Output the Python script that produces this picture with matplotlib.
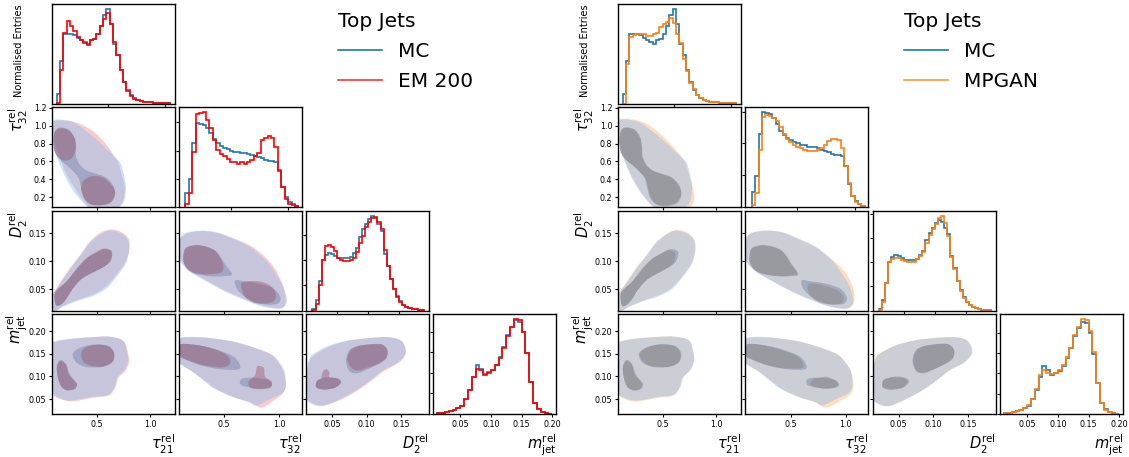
import numpy as np
import matplotlib
matplotlib.use("Agg")
import matplotlib.pyplot as plt
from matplotlib.path import Path
from matplotlib.patches import PathPatch
from matplotlib.lines import Line2D
from matplotlib.ticker import MultipleLocator, NullFormatter

# ---- variables along the corner grid ----
VARS = ["t21", "t32", "d2", "mjet"]
AXIS_LABELS = [r"$\tau_{21}^{\mathrm{rel}}$", r"$\tau_{32}^{\mathrm{rel}}$",
               r"$D_2^{\mathrm{rel}}$", r"$m_{\mathrm{jet}}^{\mathrm{rel}}$"]

# ---- 1D marginals (bin edges + normalised heights) ----
T21_EDGES = np.linspace(0.055, 0.055 + 34 * 0.029, 35)
T21_MC = [0.28, 1.27, 2.10, 2.10, 2.10, 2.06, 1.98, 1.90, 1.85, 1.80, 1.90, 1.95, 2.10, 2.32, 2.65, 2.85, 2.38,
          1.80, 1.45, 1.00, 0.65, 0.40, 0.25, 0.17, 0.12, 0.08, 0.06, 0.05, 0.04, 0.03, 0.025, 0.02, 0.015, 0.01]
T21_EM = [0.02, 1.02, 2.12, 2.47, 2.32, 2.18, 2.00, 1.92, 1.82, 1.75, 1.90, 1.95, 2.10, 2.32, 2.55, 2.72, 2.38,
          1.85, 1.45, 1.00, 0.65, 0.38, 0.23, 0.15, 0.11, 0.08, 0.06, 0.05, 0.04, 0.03, 0.025, 0.02, 0.015, 0.01]
T21_GAN = [0.0, 1.18, 2.00, 2.05, 2.08, 2.08, 2.08, 2.03, 2.03, 2.10, 2.13, 2.30, 2.40, 2.46, 2.58, 2.43, 2.08,
           1.83, 1.33, 0.98, 0.63, 0.43, 0.26, 0.17, 0.12, 0.08, 0.06, 0.05, 0.04, 0.03, 0.025, 0.02, 0.015, 0.01]

T32_EDGES = np.linspace(0.10, 1.09, 34)
T32_MC = [0.24, 0.49, 1.14, 1.49, 1.48, 1.46, 1.40, 1.31, 1.20, 1.13, 1.09, 1.05, 1.02, 1.00, 0.98, 0.97, 0.95,
          0.95, 0.94, 0.92, 0.90, 0.88, 0.86, 0.83, 0.82, 0.82, 0.80, 0.65, 0.36, 0.17, 0.09, 0.05, 0.01]
T32_EM = [0.06, 0.24, 0.98, 1.64, 1.67, 1.68, 1.54, 1.40, 1.19, 1.01, 0.94, 0.90, 0.85, 0.80, 0.79, 0.77, 0.79,
          0.77, 0.80, 0.83, 0.90, 0.96, 1.19, 1.22, 1.26, 1.22, 1.07, 0.63, 0.36, 0.15, 0.06, 0.03, 0.01]
T32_GAN = [0.03, 0.22, 0.90, 1.42, 1.44, 1.43, 1.40, 1.35, 1.25, 1.15, 1.07, 1.02, 0.98, 0.94, 0.92, 0.90, 0.88,
           0.88, 0.88, 0.90, 0.93, 0.98, 1.04, 1.07, 1.07, 1.05, 0.92, 0.65, 0.37, 0.17, 0.08, 0.04, 0.01]

D2_EDGES = np.linspace(0.01, 0.19, 37)
D2_MC = [0.39, 2.17, 5.79, 10.1, 11.05, 11.4, 11.2, 10.9, 10.5, 10.4, 10.4, 10.5, 10.7, 11.4, 12.4, 14.5, 16.1, 17.1,
         18.1, 18.8, 18.4, 17.1, 15.8, 11.3, 8.8, 6.2, 4.2, 2.8, 1.84, 1.18, 0.79, 0.53, 0.33, 0.2, 0.13, 0.07]
D2_EM = [0.13, 1.32, 5.13, 10.1, 12.7, 12.9, 12.5, 11.8, 10.5, 10.1, 9.9, 9.9, 10.1, 10.5, 11.7, 13.3, 14.7, 16.6,
         17.6, 18.4, 18.6, 17.6, 16.2, 12.0, 8.8, 6.2, 4.2, 2.6, 1.7, 1.18, 0.79, 0.53, 0.33, 0.2, 0.13, 0.07]
D2_GAN = [0.2, 1.8, 5.6, 10.0, 10.6, 10.9, 10.8, 10.5, 10.2, 10.0, 10.0, 10.1, 10.6, 11.2, 12.2, 14.0, 15.6, 16.8,
          17.9, 19.2, 19.6, 18.0, 15.4, 11.0, 8.6, 6.0, 4.0, 2.6, 1.7, 1.1, 0.75, 0.5, 0.3, 0.2, 0.12, 0.06]

M_EDGES = np.linspace(0.0125, 0.2, 31)
M_MC = [0.16, 0.32, 0.48, 0.73, 1.05, 1.45, 2.0, 3.6, 5.9, 9.1, 11.9, 10.9, 9.75, 10.1, 10.7, 11.9, 13.8, 16.2,
        19.2, 21.2, 22.8, 22.4, 20.0, 14.9, 7.7, 2.7, 1.2, 0.56, 0.24, 0.08]
M_EM = [0.16, 0.32, 0.48, 0.73, 1.05, 1.45, 2.0, 3.6, 5.9, 9.1, 10.9, 10.7, 9.5, 9.9, 10.6, 11.9, 13.5, 16.0,
        18.9, 21.2, 23.0, 22.8, 20.0, 14.9, 7.7, 2.7, 1.2, 0.56, 0.24, 0.08]
M_GAN = [0.14, 0.30, 0.45, 0.70, 1.0, 1.4, 2.1, 3.8, 6.2, 9.6, 10.8, 10.2, 9.8, 10.2, 10.9, 12.1, 14.0, 16.4,
         19.4, 21.6, 23.4, 23.2, 20.4, 15.2, 7.6, 2.6, 1.1, 0.5, 0.22, 0.08]

# ---- 2D density contours: outer (loose) level and inner (core) level outlines ----
# tau21 vs tau32
MC_21_32_OUT = [(0.07, 1.00), (0.08, 1.06), (0.15, 1.07), (0.25, 1.05), (0.34, 0.99), (0.47, 0.87), (0.57, 0.76),
                (0.66, 0.66), (0.72, 0.58), (0.75, 0.46), (0.77, 0.32), (0.76, 0.18), (0.72, 0.10), (0.62, 0.05),
                (0.50, 0.04), (0.42, 0.08), (0.35, 0.16), (0.26, 0.30), (0.18, 0.48), (0.12, 0.66), (0.08, 0.85)]
EM_21_32_OUT = [(0.08, 0.98), (0.09, 1.05), (0.16, 1.06), (0.26, 1.05), (0.36, 1.01), (0.48, 0.92), (0.58, 0.80),
                (0.65, 0.68), (0.70, 0.58), (0.73, 0.46), (0.76, 0.32), (0.75, 0.18), (0.71, 0.10), (0.62, 0.05),
                (0.50, 0.04), (0.43, 0.08), (0.37, 0.16), (0.29, 0.30), (0.21, 0.46), (0.15, 0.64), (0.10, 0.84)]
GAN_21_32_OUT = [(0.07, 1.00), (0.07, 1.07), (0.15, 1.08), (0.26, 1.06), (0.36, 1.01), (0.48, 0.90), (0.58, 0.78),
                 (0.66, 0.67), (0.71, 0.58), (0.74, 0.46), (0.78, 0.30), (0.79, 0.17), (0.74, 0.08), (0.62, 0.05),
                 (0.50, 0.04), (0.42, 0.08), (0.35, 0.16), (0.27, 0.30), (0.19, 0.47), (0.13, 0.65), (0.09, 0.84)]
MC_21_32_IN = [[(0.15, 0.98), (0.23, 0.96), (0.28, 0.88), (0.30, 0.77), (0.30, 0.66), (0.34, 0.56), (0.40, 0.50),
                (0.47, 0.47), (0.57, 0.43), (0.64, 0.35), (0.67, 0.25), (0.63, 0.15), (0.54, 0.11), (0.44, 0.12),
                (0.38, 0.19), (0.35, 0.30), (0.33, 0.40), (0.29, 0.47), (0.22, 0.55), (0.15, 0.62), (0.10, 0.71),
                (0.09, 0.85), (0.11, 0.95)]]
EM_21_32_IN = [[(0.15, 0.97), (0.23, 0.95), (0.29, 0.86), (0.30, 0.75), (0.27, 0.65), (0.21, 0.61), (0.15, 0.63),
                (0.10, 0.71), (0.09, 0.83), (0.10, 0.93)],
               [(0.40, 0.41), (0.48, 0.44), (0.57, 0.41), (0.64, 0.33), (0.67, 0.24), (0.63, 0.14), (0.54, 0.11),
                (0.44, 0.12), (0.38, 0.18), (0.35, 0.28), (0.36, 0.36)]]
GAN_21_32_IN = [[(0.14, 0.98), (0.22, 0.96), (0.28, 0.87), (0.30, 0.76), (0.31, 0.65), (0.35, 0.55), (0.41, 0.49),
                 (0.48, 0.46), (0.57, 0.42), (0.64, 0.34), (0.67, 0.24), (0.64, 0.14), (0.55, 0.10), (0.45, 0.11),
                 (0.39, 0.18), (0.36, 0.29), (0.34, 0.39), (0.30, 0.46), (0.23, 0.54), (0.16, 0.61), (0.10, 0.70),
                 (0.09, 0.84), (0.10, 0.94)]]

# tau21 vs D2
MC_21_D2_OUT = [(0.08, 0.010), (0.07, 0.036), (0.14, 0.057), (0.21, 0.077), (0.28, 0.095), (0.35, 0.112),
                (0.43, 0.133), (0.53, 0.148), (0.62, 0.155), (0.72, 0.150), (0.79, 0.138), (0.80, 0.118),
                (0.77, 0.096), (0.69, 0.074), (0.59, 0.052), (0.47, 0.039), (0.31, 0.029), (0.18, 0.019)]
EM_21_D2_OUT = [(0.09, 0.011), (0.08, 0.038), (0.14, 0.059), (0.21, 0.079), (0.28, 0.097), (0.35, 0.114),
                (0.43, 0.135), (0.53, 0.151), (0.63, 0.157), (0.73, 0.152), (0.80, 0.139), (0.80, 0.118),
                (0.76, 0.097), (0.68, 0.076), (0.58, 0.055), (0.47, 0.042), (0.31, 0.031), (0.18, 0.021)]
GAN_21_D2_OUT = [(0.08, 0.010), (0.07, 0.038), (0.14, 0.059), (0.21, 0.079), (0.28, 0.097), (0.35, 0.113),
                 (0.43, 0.133), (0.53, 0.149), (0.62, 0.156), (0.72, 0.152), (0.79, 0.139), (0.80, 0.118),
                 (0.76, 0.096), (0.68, 0.074), (0.58, 0.053), (0.47, 0.041), (0.31, 0.030), (0.18, 0.020)]
MC_21_D2_IN = [[(0.11, 0.022), (0.10, 0.042), (0.13, 0.051), (0.21, 0.064), (0.31, 0.087), (0.40, 0.105),
                (0.50, 0.116), (0.57, 0.122), (0.64, 0.117), (0.62, 0.100), (0.55, 0.089), (0.41, 0.075),
                (0.34, 0.066), (0.26, 0.049), (0.20, 0.031), (0.15, 0.022)]]
EM_21_D2_IN = [[(0.11, 0.023), (0.10, 0.041), (0.14, 0.052), (0.22, 0.066), (0.31, 0.088), (0.40, 0.106),
                (0.49, 0.117), (0.56, 0.123), (0.63, 0.119), (0.63, 0.102), (0.56, 0.090), (0.42, 0.077),
                (0.34, 0.067), (0.27, 0.051), (0.21, 0.033), (0.16, 0.023)]]
GAN_21_D2_IN = [[(0.11, 0.022), (0.10, 0.042), (0.14, 0.052), (0.21, 0.065), (0.30, 0.087), (0.39, 0.104),
                 (0.48, 0.114), (0.55, 0.120), (0.61, 0.115), (0.60, 0.099), (0.53, 0.088), (0.40, 0.074),
                 (0.33, 0.065), (0.26, 0.049), (0.20, 0.031), (0.15, 0.022)]]

# tau32 vs D2
MC_32_D2_OUT = [(0.085, 0.136), (0.14, 0.150), (0.28, 0.155), (0.43, 0.152), (0.58, 0.140), (0.73, 0.126),
                (0.88, 0.101), (0.97, 0.077), (1.04, 0.053), (1.07, 0.028), (1.02, 0.016), (0.94, 0.016),
                (0.82, 0.021), (0.70, 0.030), (0.52, 0.045), (0.34, 0.064), (0.19, 0.081), (0.10, 0.100),
                (0.08, 0.120)]
EM_32_D2_OUT = [(0.085, 0.134), (0.15, 0.149), (0.29, 0.154), (0.44, 0.151), (0.59, 0.141), (0.74, 0.128),
                (0.87, 0.108), (0.96, 0.087), (1.03, 0.059), (1.06, 0.031), (1.03, 0.018), (0.94, 0.018),
                (0.82, 0.023), (0.70, 0.032), (0.52, 0.047), (0.35, 0.065), (0.21, 0.081), (0.12, 0.098),
                (0.09, 0.118)]
GAN_32_D2_OUT = [(0.085, 0.135), (0.14, 0.150), (0.28, 0.155), (0.43, 0.151), (0.58, 0.139), (0.73, 0.125),
                 (0.88, 0.103), (0.99, 0.082), (1.06, 0.056), (1.08, 0.030), (1.03, 0.017), (0.94, 0.017),
                 (0.82, 0.022), (0.70, 0.031), (0.52, 0.046), (0.34, 0.065), (0.19, 0.082), (0.10, 0.100),
                 (0.08, 0.120)]
MC_32_D2_IN = [[(0.13, 0.112), (0.15, 0.123), (0.22, 0.128), (0.28, 0.128), (0.35, 0.125), (0.41, 0.120),
                (0.46, 0.110), (0.50, 0.097), (0.57, 0.077), (0.50, 0.074), (0.43, 0.073), (0.35, 0.074),
                (0.28, 0.076), (0.21, 0.080), (0.16, 0.087), (0.13, 0.100)],
               [(0.60, 0.066), (0.70, 0.064), (0.78, 0.062), (0.88, 0.057), (0.96, 0.050), (1.01, 0.036),
                (0.99, 0.025), (0.90, 0.023), (0.80, 0.026), (0.70, 0.035), (0.62, 0.050)]]
EM_32_D2_IN = [[(0.13, 0.112), (0.15, 0.124), (0.22, 0.129), (0.28, 0.129), (0.35, 0.126), (0.42, 0.119),
                (0.46, 0.108), (0.49, 0.094), (0.48, 0.082), (0.42, 0.078), (0.35, 0.077), (0.28, 0.078),
                (0.21, 0.081), (0.16, 0.088), (0.13, 0.100)],
               [(0.66, 0.062), (0.75, 0.065), (0.85, 0.063), (0.93, 0.055), (0.97, 0.040), (0.94, 0.028),
                (0.85, 0.025), (0.76, 0.027), (0.69, 0.037), (0.66, 0.051)]]
GAN_32_D2_IN = [[(0.13, 0.113), (0.15, 0.124), (0.22, 0.129), (0.28, 0.129), (0.35, 0.126), (0.41, 0.121),
                 (0.46, 0.111), (0.50, 0.098), (0.56, 0.079), (0.49, 0.075), (0.42, 0.074), (0.35, 0.075),
                 (0.28, 0.077), (0.21, 0.081), (0.16, 0.088), (0.13, 0.100)],
                [(0.66, 0.060), (0.74, 0.060), (0.84, 0.055), (0.93, 0.048), (0.98, 0.036), (0.96, 0.026),
                 (0.88, 0.023), (0.78, 0.026), (0.70, 0.035), (0.66, 0.048)]]

# tau21 vs mjet
MC_21_M_OUT = [(0.07, 0.170), (0.11, 0.178), (0.26, 0.184), (0.46, 0.187), (0.60, 0.188), (0.74, 0.180),
               (0.78, 0.155), (0.79, 0.136), (0.76, 0.116), (0.69, 0.098), (0.66, 0.076), (0.60, 0.059),
               (0.46, 0.055), (0.26, 0.047), (0.15, 0.051), (0.08, 0.063), (0.07, 0.100)]
EM_21_M_OUT = [(0.08, 0.168), (0.12, 0.177), (0.27, 0.183), (0.47, 0.187), (0.62, 0.188), (0.75, 0.178),
               (0.79, 0.152), (0.80, 0.132), (0.77, 0.114), (0.70, 0.097), (0.67, 0.075), (0.61, 0.058),
               (0.46, 0.053), (0.27, 0.045), (0.16, 0.050), (0.09, 0.062), (0.08, 0.100)]
GAN_21_M_OUT = [(0.07, 0.168), (0.11, 0.178), (0.26, 0.184), (0.46, 0.188), (0.60, 0.188), (0.74, 0.180),
                (0.78, 0.156), (0.79, 0.134), (0.75, 0.114), (0.68, 0.097), (0.65, 0.075), (0.59, 0.058),
                (0.46, 0.053), (0.26, 0.045), (0.15, 0.049), (0.08, 0.062), (0.07, 0.100)]
MC_21_M_IN = [[(0.27, 0.150), (0.32, 0.161), (0.40, 0.168), (0.50, 0.171), (0.61, 0.167), (0.66, 0.152),
               (0.65, 0.133), (0.57, 0.122), (0.47, 0.120), (0.38, 0.122), (0.30, 0.132)],
              [(0.17, 0.136), (0.21, 0.126), (0.24, 0.106), (0.28, 0.093), (0.31, 0.083), (0.29, 0.072),
               (0.22, 0.069), (0.16, 0.078), (0.13, 0.098), (0.12, 0.120), (0.14, 0.134)]]
EM_21_M_IN = [[(0.35, 0.150), (0.39, 0.164), (0.50, 0.170), (0.61, 0.166), (0.66, 0.150), (0.64, 0.132),
               (0.55, 0.122), (0.45, 0.123), (0.37, 0.133)],
              [(0.17, 0.134), (0.21, 0.124), (0.23, 0.105), (0.28, 0.092), (0.31, 0.082), (0.28, 0.072),
               (0.21, 0.070), (0.16, 0.079), (0.13, 0.099), (0.12, 0.120), (0.14, 0.132)]]
GAN_21_M_IN = [[(0.28, 0.150), (0.33, 0.162), (0.41, 0.169), (0.51, 0.171), (0.62, 0.166), (0.67, 0.150),
                (0.65, 0.132), (0.57, 0.122), (0.47, 0.121), (0.38, 0.124), (0.31, 0.134)],
               [(0.17, 0.133), (0.21, 0.123), (0.23, 0.104), (0.28, 0.091), (0.30, 0.081), (0.27, 0.071),
                (0.21, 0.070), (0.16, 0.078), (0.13, 0.097), (0.12, 0.118), (0.14, 0.131)]]

# tau32 vs mjet
MC_32_M_OUT = [(0.08, 0.182), (0.28, 0.187), (0.54, 0.179), (0.73, 0.167), (0.92, 0.149), (1.00, 0.129),
               (1.05, 0.110), (1.06, 0.081), (1.03, 0.064), (0.93, 0.052), (0.79, 0.036), (0.72, 0.044),
               (0.57, 0.055), (0.41, 0.073), (0.32, 0.089), (0.21, 0.111), (0.11, 0.126), (0.08, 0.140)]
EM_32_M_OUT = [(0.08, 0.181), (0.28, 0.186), (0.54, 0.179), (0.73, 0.167), (0.92, 0.150), (1.00, 0.131),
               (1.04, 0.110), (1.06, 0.080), (1.03, 0.062), (0.95, 0.047), (0.84, 0.031), (0.74, 0.042),
               (0.58, 0.055), (0.43, 0.072), (0.35, 0.086), (0.24, 0.106), (0.13, 0.123), (0.08, 0.138)]
GAN_32_M_OUT = [(0.08, 0.181), (0.28, 0.186), (0.54, 0.179), (0.73, 0.167), (0.92, 0.150), (1.00, 0.131),
                (1.05, 0.110), (1.07, 0.080), (1.04, 0.060), (0.95, 0.046), (0.82, 0.031), (0.73, 0.042),
                (0.58, 0.054), (0.43, 0.071), (0.34, 0.087), (0.23, 0.108), (0.12, 0.124), (0.08, 0.138)]
MC_32_M_IN = [[(0.09, 0.168), (0.15, 0.172), (0.31, 0.167), (0.47, 0.156), (0.60, 0.141), (0.64, 0.117),
               (0.47, 0.116), (0.31, 0.123), (0.18, 0.134), (0.09, 0.146)],
              [(0.66, 0.095), (0.79, 0.097), (0.91, 0.091), (0.93, 0.079), (0.83, 0.073), (0.66, 0.080)]]
EM_32_M_IN = [[(0.09, 0.168), (0.15, 0.172), (0.31, 0.167), (0.45, 0.157), (0.54, 0.143), (0.55, 0.127),
               (0.47, 0.120), (0.31, 0.125), (0.18, 0.135), (0.09, 0.147)],
              [(0.80, 0.122), (0.86, 0.119), (0.87, 0.100), (0.93, 0.088), (0.91, 0.074), (0.76, 0.073),
               (0.72, 0.087), (0.78, 0.103)]]
GAN_32_M_IN = [[(0.09, 0.168), (0.15, 0.172), (0.31, 0.166), (0.46, 0.155), (0.58, 0.141), (0.61, 0.120),
                (0.46, 0.118), (0.31, 0.124), (0.18, 0.135), (0.09, 0.146)],
               [(0.70, 0.093), (0.78, 0.098), (0.84, 0.099), (0.92, 0.089), (0.93, 0.078), (0.82, 0.073),
                (0.69, 0.080)]]

# D2 vs mjet
MC_D2_M_OUT = [(0.022, 0.149), (0.045, 0.168), (0.071, 0.179), (0.097, 0.184), (0.129, 0.187), (0.146, 0.182),
               (0.154, 0.170), (0.156, 0.150), (0.145, 0.131), (0.123, 0.113), (0.108, 0.095), (0.087, 0.072),
               (0.061, 0.050), (0.035, 0.034), (0.017, 0.042), (0.012, 0.058), (0.013, 0.110), (0.016, 0.134)]
EM_D2_M_OUT = [(0.023, 0.146), (0.046, 0.166), (0.072, 0.178), (0.098, 0.184), (0.130, 0.187), (0.148, 0.181),
               (0.155, 0.168), (0.156, 0.148), (0.146, 0.130), (0.124, 0.111), (0.109, 0.093), (0.088, 0.070),
               (0.062, 0.048), (0.036, 0.036), (0.018, 0.044), (0.013, 0.060), (0.014, 0.110), (0.017, 0.132)]
GAN_D2_M_OUT = [(0.020, 0.148), (0.044, 0.168), (0.071, 0.179), (0.097, 0.185), (0.130, 0.187), (0.146, 0.182),
                (0.153, 0.169), (0.155, 0.150), (0.144, 0.131), (0.122, 0.112), (0.107, 0.094), (0.086, 0.071),
                (0.060, 0.050), (0.035, 0.035), (0.017, 0.043), (0.012, 0.058), (0.013, 0.110), (0.015, 0.134)]
MC_D2_M_IN = [[(0.075, 0.158), (0.086, 0.167), (0.097, 0.170), (0.110, 0.172), (0.122, 0.171), (0.130, 0.159),
               (0.128, 0.140), (0.116, 0.127), (0.100, 0.115), (0.086, 0.107), (0.075, 0.112), (0.070, 0.135)],
              [(0.028, 0.091), (0.037, 0.097), (0.046, 0.098), (0.058, 0.096), (0.063, 0.087), (0.054, 0.075),
               (0.038, 0.071), (0.027, 0.076)]]
EM_D2_M_IN = [[(0.077, 0.158), (0.088, 0.167), (0.100, 0.170), (0.112, 0.171), (0.123, 0.170), (0.130, 0.157),
               (0.128, 0.140), (0.116, 0.127), (0.100, 0.119), (0.088, 0.113), (0.078, 0.119), (0.072, 0.138)],
              [(0.028, 0.089), (0.034, 0.095), (0.036, 0.109), (0.041, 0.116), (0.046, 0.109), (0.046, 0.098),
               (0.056, 0.096), (0.063, 0.087), (0.054, 0.075), (0.038, 0.071), (0.027, 0.076)]]
GAN_D2_M_IN = [[(0.076, 0.158), (0.087, 0.167), (0.098, 0.170), (0.111, 0.172), (0.122, 0.171), (0.130, 0.158),
                (0.128, 0.140), (0.116, 0.127), (0.100, 0.116), (0.087, 0.109), (0.076, 0.113), (0.071, 0.136)],
               [(0.028, 0.092), (0.038, 0.098), (0.048, 0.100), (0.060, 0.097), (0.065, 0.088), (0.056, 0.075),
                (0.039, 0.071), (0.027, 0.077)]]

# ---- axis setup ----
LIMS = {"t21": (0.075, 1.23), "t32": (0.09, 1.205), "d2": (0.0125, 0.19), "mjet": (0.017, 0.237)}
DIAG_XLIM = {"t21": (0.015, 1.085), "t32": (0.044, 1.12), "d2": (0.0, 0.198), "mjet": (0.006, 0.206)}
X_TICKS = {"t21": [0.5, 1.0], "t32": [0.5, 1.0], "d2": [0.05, 0.10, 0.15], "mjet": [0.05, 0.10, 0.15, 0.20]}
Y_TICKS = {"t32": [0.2, 0.4, 0.6, 0.8, 1.0, 1.2], "d2": [0.05, 0.10, 0.15], "mjet": [0.05, 0.10, 0.15, 0.20]}
DIAG_YSTEP = {"t21": None, "t32": 0.5, "d2": 5, "mjet": 5}

MC_COLOR = "#1f77b4"
MC_FILL, MC_CORE = (0.55, 0.75, 0.95), (0.40, 0.47, 0.62)

plt.rcParams["font.family"] = "DejaVu Sans"
plt.rcParams["mathtext.fontset"] = "dejavusans"

fig = plt.figure(figsize=(11.29, 4.57), dpi=100)


def smooth_patch(ax, pts, color, alpha):
    # closed Catmull-Rom outline through the contour points, as cubic Bezier pieces
    v = np.asarray(pts, float)
    n = len(v)
    verts = [v[0]]
    codes = [Path.MOVETO]
    for i in range(n):
        p0, p1, p2, p3 = v[i - 1], v[i], v[(i + 1) % n], v[(i + 2) % n]
        verts += [p1 + (p2 - p0) / 6, p2 - (p3 - p1) / 6, p2]
        codes += [Path.CURVE4] * 3
    ax.add_patch(PathPatch(Path(verts, codes), facecolor=color, edgecolor="none", alpha=alpha, lw=0))


def draw_corner(left, right, hists, shapes, alt_color, alt_fill, alt_core, alt_label):
    gs = fig.add_gridspec(4, 4, left=left, right=right, top=1 - 4 / 457, bottom=1 - 414 / 457,
                          wspace=0.036, hspace=0.04)
    for i in range(4):
        for j in range(i + 1):
            ax = fig.add_subplot(gs[i, j])
            vx, vy = VARS[j], VARS[i]
            if i == j:
                edges, mc, alt = hists[vx]
                ax.stairs(mc, edges, color=MC_COLOR, lw=1.2)
                ax.stairs(alt, edges, color=alt_color, lw=1.2)
                ax.set_xlim(*DIAG_XLIM[vx])
                ax.set_xticks(X_TICKS[vx])
                if DIAG_YSTEP[vx] is None:
                    ax.set_yticks([])
                else:
                    ax.yaxis.set_major_locator(MultipleLocator(DIAG_YSTEP[vx]))
                ax.yaxis.set_major_formatter(NullFormatter())
            else:
                mc_out, mc_in, alt_out, alt_in = shapes[(i, j)]
                smooth_patch(ax, alt_out, alt_fill, 0.45)
                smooth_patch(ax, mc_out, MC_FILL, 0.45)
                for blob in mc_in:
                    smooth_patch(ax, blob, MC_CORE, 0.4)
                for blob in alt_in:
                    smooth_patch(ax, blob, alt_core, 0.4)
                ax.set_xlim(*LIMS[vx])
                ax.set_ylim(*LIMS[vy])
                ax.set_xticks(X_TICKS[vx])
                ax.set_yticks(Y_TICKS[vy])
                if j > 0:
                    ax.yaxis.set_major_formatter(NullFormatter())
            if i < 3:
                ax.xaxis.set_major_formatter(NullFormatter())
            else:
                ax.set_xlabel(AXIS_LABELS[j], fontsize=10.5, loc="right", labelpad=3)
            if j == 0:
                if i == 0:
                    ax.set_ylabel("Normalised Entries", fontsize=7, loc="top")
                    ax.yaxis.set_label_coords(-0.225, 1.0)
                else:
                    ax.set_ylabel(AXIS_LABELS[i], fontsize=10.5, loc="top")
                    ax.yaxis.set_label_coords(-0.18, 1.0)
            ax.tick_params(labelsize=5.8, length=2.5, width=0.8, pad=1.5)
            for s in ax.spines.values():
                s.set_linewidth(1.0)
    handles = [Line2D([], [], color=MC_COLOR, lw=1.2, label="MC"),
               Line2D([], [], color=alt_color, lw=1.2, alpha=0.8, label=alt_label)]
    fig.legend(handles=handles, title="Top Jets", loc="upper left",
               bbox_to_anchor=(left + 286 / 1129, 1 - 12 / 457), frameon=False, fontsize=14.5,
               title_fontsize=14.5, alignment="left", borderpad=0, borderaxespad=0, handlelength=2.2,
               labelspacing=0.55)


HISTS_EM = {"t21": (T21_EDGES, T21_MC, T21_EM), "t32": (T32_EDGES, T32_MC, T32_EM),
            "d2": (D2_EDGES, D2_MC, D2_EM), "mjet": (M_EDGES, M_MC, M_EM)}
HISTS_GAN = {"t21": (T21_EDGES, T21_MC, T21_GAN), "t32": (T32_EDGES, T32_MC, T32_GAN),
             "d2": (D2_EDGES, D2_MC, D2_GAN), "mjet": (M_EDGES, M_MC, M_GAN)}

SHAPES_EM = {(1, 0): (MC_21_32_OUT, MC_21_32_IN, EM_21_32_OUT, EM_21_32_IN),
             (2, 0): (MC_21_D2_OUT, MC_21_D2_IN, EM_21_D2_OUT, EM_21_D2_IN),
             (2, 1): (MC_32_D2_OUT, MC_32_D2_IN, EM_32_D2_OUT, EM_32_D2_IN),
             (3, 0): (MC_21_M_OUT, MC_21_M_IN, EM_21_M_OUT, EM_21_M_IN),
             (3, 1): (MC_32_M_OUT, MC_32_M_IN, EM_32_M_OUT, EM_32_M_IN),
             (3, 2): (MC_D2_M_OUT, MC_D2_M_IN, EM_D2_M_OUT, EM_D2_M_IN)}
SHAPES_GAN = {(1, 0): (MC_21_32_OUT, MC_21_32_IN, GAN_21_32_OUT, GAN_21_32_IN),
              (2, 0): (MC_21_D2_OUT, MC_21_D2_IN, GAN_21_D2_OUT, GAN_21_D2_IN),
              (2, 1): (MC_32_D2_OUT, MC_32_D2_IN, GAN_32_D2_OUT, GAN_32_D2_IN),
              (3, 0): (MC_21_M_OUT, MC_21_M_IN, GAN_21_M_OUT, GAN_21_M_IN),
              (3, 1): (MC_32_M_OUT, MC_32_M_IN, GAN_32_M_OUT, GAN_32_M_IN),
              (3, 2): (MC_D2_M_OUT, MC_D2_M_IN, GAN_D2_M_OUT, GAN_D2_M_IN)}

draw_corner(52 / 1129, 556 / 1129, HISTS_EM, SHAPES_EM, "red", (0.95, 0.55, 0.55), (0.6, 0.3, 0.4), "EM 200")
draw_corner(618 / 1129, 1123 / 1129, HISTS_GAN, SHAPES_GAN, "#ff7f0e", (1.0, 0.7, 0.45), (0.55, 0.5, 0.45), "MPGAN")

fig.savefig("out.png", dpi=100)
